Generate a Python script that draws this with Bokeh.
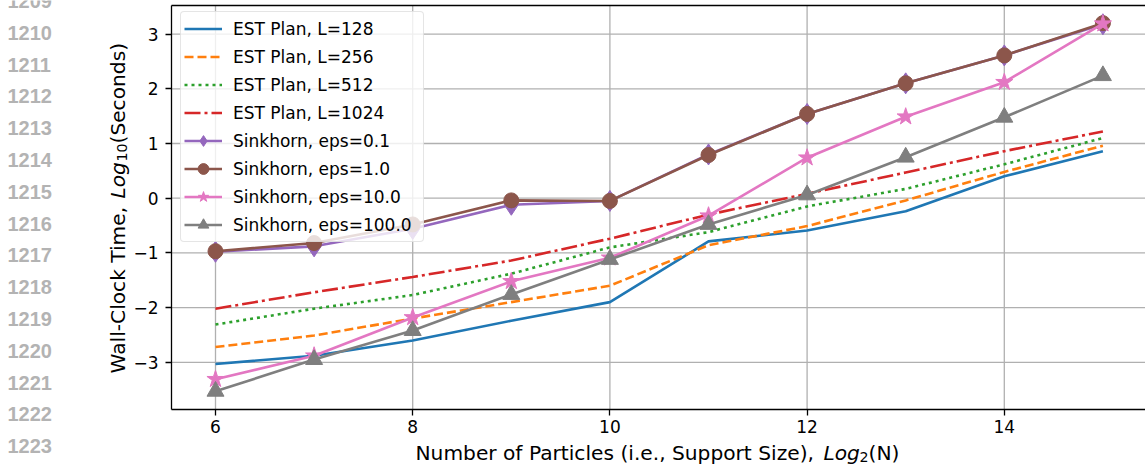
import numpy as np
from bokeh.plotting import figure
from bokeh.models import Label, FixedTicker, Range1d, LinearAxis
from bokeh.embed import file_html
from bokeh.resources import INLINE

# ---------------- data ----------------
support_log2 = [6, 7, 8, 9, 10, 11, 12, 13, 14, 15]
est_L128 = [-3.03, -2.88, -2.60, -2.24, -1.90, -0.79, -0.59, -0.24, 0.40, 0.86]
est_L256 = [-2.72, -2.51, -2.20, -1.90, -1.60, -0.86, -0.51, -0.04, 0.48, 0.96]
est_L512 = [-2.31, -2.02, -1.77, -1.38, -0.90, -0.62, -0.15, 0.17, 0.62, 1.10]
est_L1024 = [-2.02, -1.72, -1.44, -1.14, -0.74, -0.30, 0.08, 0.47, 0.86, 1.22]
sink_eps01 = [-0.98, -0.88, -0.56, -0.12, -0.05, 0.80, 1.54, 2.10, 2.61, 3.18]
sink_eps1 = [-0.97, -0.82, -0.48, -0.04, -0.05, 0.79, 1.54, 2.10, 2.61, 3.20]
sink_eps10 = [-3.31, -2.88, -2.18, -1.52, -1.09, -0.32, 0.74, 1.49, 2.12, 3.19]
sink_eps100 = [-3.53, -2.95, -2.42, -1.76, -1.12, -0.48, 0.06, 0.75, 1.48, 2.24]

x_ticks = [6, 8, 10, 12, 14]
y_ticks = [-3, -2, -1, 0, 1, 2, 3]
y_tick_labels = ["\u22123", "\u22122", "\u22121", "0", "1", "2", "3"]
line_numbers = [str(n) for n in range(1209, 1224)]

# ---------------- layout ----------------
W, H = 1145, 467
FL, FT, FB = 171, 5, 409          # plot-area left / top / bottom (px)
PPX, PPY = 98.6, 54.7             # pixels per data unit
X0 = 6 - (215 - FL) / PPX         # data x at plot-area left edge
X1 = X0 + (W - FL) / PPX          # data x at window right edge
Y1 = (197.7 - FT) / PPY           # data y at plot-area top
Y0 = Y1 - (FB - FT) / PPY         # data y at plot-area bottom


def dx(px):
    return X0 + (px - FL) / PPX


def dy(py):
    return Y1 - (py - FT) / PPY


# the frame covers the whole canvas; axes are pinned at the plot-area edges
p = figure(width=W, height=H, x_range=Range1d(dx(0), dx(W)), y_range=Range1d(dy(H), dy(0)),
           output_backend="svg", toolbar_location=None,
           x_axis_location=None, y_axis_location=None,
           min_border_left=0, min_border_right=0, min_border_top=0, min_border_bottom=0)
p.outline_line_color = None
p.background_fill_color = "white"
p.border_fill_color = "white"
p.grid.visible = False

# grid lines limited to the plot area
GRID_COLOR, GRID_W = "#b0b0b0", 1.3
p.segment(x0=x_ticks, x1=x_ticks, y0=[Y0] * len(x_ticks), y1=[Y1] * len(x_ticks),
          line_color=GRID_COLOR, line_width=GRID_W, level="underlay")
p.segment(x0=[X0] * len(y_ticks), x1=[X1] * len(y_ticks), y0=y_ticks, y1=y_ticks,
          line_color=GRID_COLOR, line_width=GRID_W, level="underlay")

FONT = "DejaVu Sans"
xaxis = LinearAxis(fixed_location=Y0, bounds=(X0, X1), ticker=FixedTicker(ticks=x_ticks))
yaxis = LinearAxis(fixed_location=X0, bounds=(Y0, Y1), ticker=FixedTicker(ticks=y_ticks))
topaxis = LinearAxis(fixed_location=Y1, bounds=(X0, X1), ticker=FixedTicker(ticks=[]))
for ax in (xaxis, yaxis, topaxis):
    ax.axis_line_color = "black"
    ax.axis_line_width = 1.3
    ax.major_tick_line_color = "black"
    ax.major_tick_line_width = 1.3
    ax.major_tick_out = 6
    ax.major_tick_in = 0
    ax.minor_tick_out = 0
    ax.minor_tick_in = 0
    ax.major_label_text_font = FONT
    ax.major_label_text_font_size = "17px"
    ax.major_label_text_color = "black"
topaxis.major_tick_out = 0
topaxis.major_label_text_alpha = 0
yaxis.major_label_overrides = {t: l for t, l in zip(y_ticks, y_tick_labels)}
xaxis.major_label_standoff = 4
yaxis.major_label_standoff = 7
p.add_layout(xaxis, "below")
p.add_layout(yaxis, "left")
p.add_layout(topaxis, "above")

# ---------------- series ----------------
LW = 2.6
est_series = [
    (est_L128, "#1f77b4", "solid", "EST Plan, L=128"),
    (est_L256, "#ff7f0e", "9 4", "EST Plan, L=256"),
    (est_L512, "#2ca02c", "3 4", "EST Plan, L=512"),
    (est_L1024, "#d62728", "16 4 3 4", "EST Plan, L=1024"),
]
for ys, col, dash, lab in est_series:
    p.line(support_log2, ys, line_color=col, line_width=LW, line_dash=dash, legend_label=lab)

sink_series = [
    (sink_eps01, "#9467bd", "diamond", 21, "Sinkhorn, eps=0.1"),
    (sink_eps1, "#8c564b", "circle", 15, "Sinkhorn, eps=1.0"),
    (sink_eps10, "#e377c2", "star", 18, "Sinkhorn, eps=10.0"),
    (sink_eps100, "#7f7f7f", "triangle", 17, "Sinkhorn, eps=100.0"),
]
for ys, col, mk, sz, lab in sink_series:
    p.line(support_log2, ys, line_color=col, line_width=LW, legend_label=lab)
    p.scatter(support_log2, ys, marker=mk, size=sz, fill_color=col, line_color=col,
              legend_label=lab)

lg = p.legend[0]
LEG_PAD, LEG_H, LEG_SP, N_ITEMS = 3, 27, 1, 8
leg_height = 2 * LEG_PAD + N_ITEMS * LEG_H + (N_ITEMS - 1) * LEG_SP
lg.location = (180, H - (13 + leg_height))
lg.margin = 0
lg.padding = LEG_PAD
lg.spacing = LEG_SP
lg.glyph_width = 38
lg.glyph_height = LEG_H
lg.label_height = LEG_H
lg.label_width = 187
lg.label_standoff = 11
lg.label_text_font = FONT
lg.label_text_font_size = "17px"
lg.label_text_color = "black"
lg.border_line_color = "#cccccc"
lg.border_line_width = 1.3
lg.background_fill_alpha = 0.8
try:
    lg.border_radius = 4
except Exception:
    pass

# ---------------- axis titles & page line numbers ----------------
SHIFT = 8.5   # correction between intended glyph baseline and Label anchor
TSIZE, SSIZE = "20.2px", "14.2px"


def lab(txt, px, py, size=TSIZE, style="normal", rotated=False, font=FONT, color="black"):
    if rotated:
        px, ang = px - SHIFT, np.pi / 2
    else:
        py, ang = py - SHIFT, 0.0
    p.add_layout(Label(x=dx(px), y=dy(py), text=txt, text_font=font, text_font_size=size,
                       text_font_style=style, text_color=color, text_align="left",
                       text_baseline="alphabetic", angle=ang))


# x title
lab("Number of Particles (i.e., Support Size),", 415, 461)
lab("Log", 823, 461, style="italic")
lab("2", 859, 465, size=SSIZE)
lab("(N)", 868, 461)

# y title (rotated)
lab("Wall-Clock Time,", 126, 373, rotated=True)
lab("Log", 126, 198, style="italic", rotated=True)
lab("10", 130, 161, size=SSIZE, rotated=True)
lab("(Seconds)", 126, 143, rotated=True)

# page line numbers
for i, t in enumerate(line_numbers):
    lab(t, 7, 40.7 + 31.8 * (i - 1), size="20px", style="bold",
        font="Liberation Sans", color="#b3b3b3")

open("out.html", "w").write(file_html(p, INLINE))
